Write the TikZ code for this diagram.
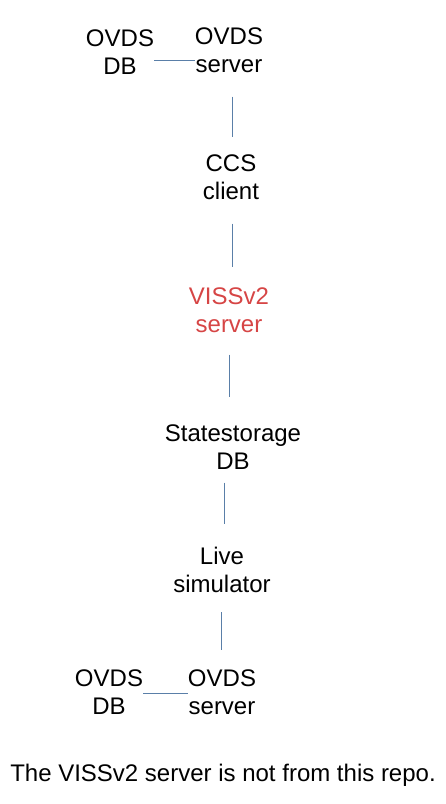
\documentclass[tikz,border=0pt]{standalone}
\usepackage{fontspec}
\setmainfont{Liberation Sans}
\usepackage{tikz}
\definecolor{linkcol}{HTML}{5A7FA8}
\definecolor{vissred}{HTML}{D64545}

\begin{document}
\begin{tikzpicture}[x=1pt,y=-1pt]
\tikzstyle{box}=[align=center,inner sep=0pt,font=\fontsize{24}{28}\selectfont]
\tikzstyle{link}=[draw=linkcol,line width=0.9pt]
\useasboundingbox (0,0) rectangle (446,804);

\node[box] (dbtop) at (120,52)   {OVDS\\DB} ;
\node[box] (srvtop) at (229,50)  {OVDS\\server} ;
\node[box] (ccs) at (231,177)    {CCS\\client} ;
\node[box,text=vissred] (viss) at (229,310) {VISSv2\\server} ;
\node[box] (state) at (233,447)  {Statestorage\\DB} ;
\node[box] (live) at (222,570)   {Live\\simulator} ;
\node[box] (dbbot) at (109,692)  {OVDS\\DB} ;
\node[box] (srvbot) at (222,692) {OVDS\\server} ;
\node[box] (note) at (223,775)   {The VISSv2 server is not from this repo.} ;

\draw[link] ([yshift=-8]dbtop.east) -- ([yshift=-8]dbtop.east -| srvtop.west) ;
\draw[link] ([xshift=3,yshift=-24]srvtop.south) -- ([xshift=1,yshift=17]ccs.north) ;
\draw[link] ([xshift=1,yshift=-24]ccs.south) -- ([xshift=3,yshift=20]viss.north) ;
\draw[link] ([yshift=-22]viss.south) -- ([yshift=27]state.north -| viss.south) ;
\draw[link] ([xshift=-9,yshift=-13]state.south) -- ([xshift=2,yshift=23]live.north) ;
\draw[link] ([xshift=-1,yshift=-19]live.south) -- ([xshift=-1,yshift=19]srvbot.north) ;
\draw[link] ([yshift=-1]dbbot.east) -- ([yshift=-1]dbbot.east -| srvbot.west) ;

\end{tikzpicture}
\end{document}
